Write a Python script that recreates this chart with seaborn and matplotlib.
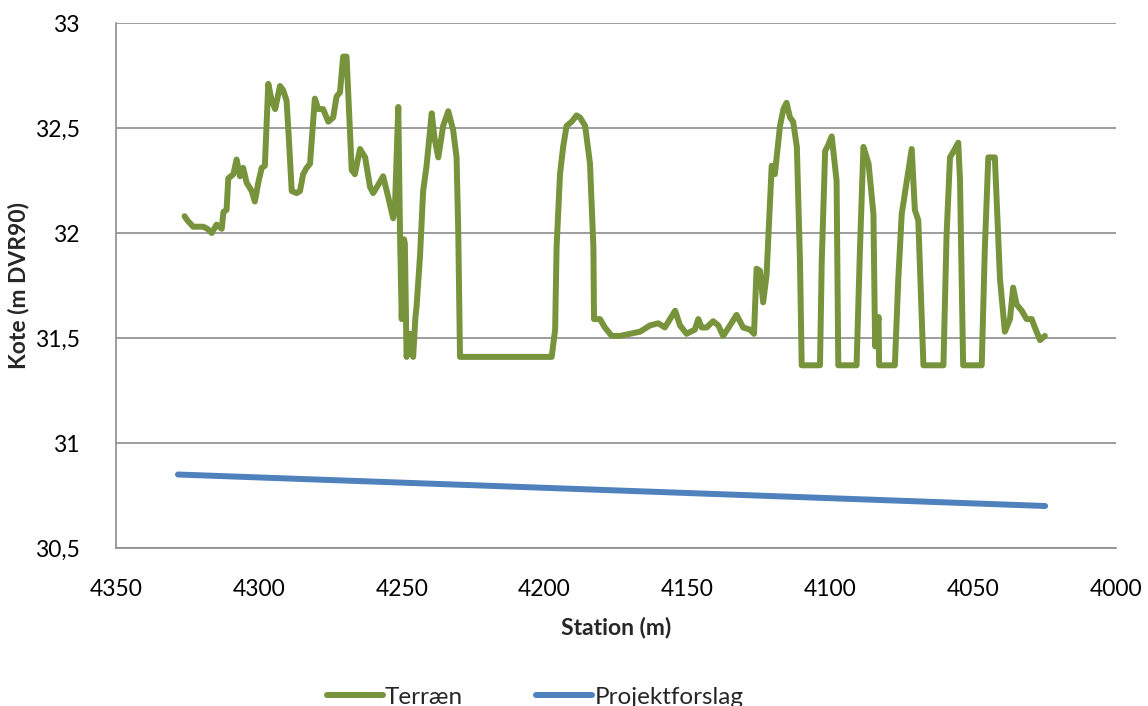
import numpy as np
import pandas as pd
import seaborn as sns
from matplotlib import pyplot as plt
from matplotlib.ticker import FuncFormatter, MultipleLocator

# terræn (station i m, kote i m DVR90)
terraen_station = [
    4326.0, 4325.0, 4323.0, 4319.5, 4318.0, 4316.5, 4314.8, 4313.0, 4312.4, 4311.3,
    4310.7, 4308.9, 4307.8, 4306.6, 4305.5, 4304.3, 4302.5, 4301.4, 4300.2, 4299.0,
    4297.9, 4296.7, 4295.5, 4294.3, 4292.6, 4291.5, 4290.3, 4289.5, 4288.5, 4286.8,
    4285.6, 4284.5, 4283.3, 4282.1, 4280.4, 4279.2, 4277.5, 4275.7, 4274.0, 4272.8,
    4271.6, 4270.5, 4269.3, 4268.5, 4267.5, 4266.4, 4264.6, 4262.8, 4261.1, 4260.0,
    4258.2, 4256.5, 4254.7, 4253.0, 4252.4, 4251.2, 4250.6, 4250.0, 4249.2, 4248.9,
    4248.3, 4247.1, 4246.0, 4245.2, 4244.8, 4243.6, 4242.5, 4241.3, 4239.5, 4238.5,
    4237.2, 4235.5, 4233.7, 4232.0, 4230.8, 4230.2, 4229.6, 4197.5, 4196.3, 4195.8,
    4194.6, 4193.5, 4192.3, 4190.5, 4188.8, 4187.6, 4185.8, 4184.1, 4182.9, 4182.7,
    4180.6, 4178.9, 4176.5, 4173.6, 4170.1, 4166.6, 4163.1, 4160.2, 4157.9, 4154.3,
    4152.6, 4150.3, 4147.4, 4146.2, 4145.0, 4143.3, 4141.0, 4139.2, 4137.5, 4135.1,
    4132.8, 4130.5, 4128.1, 4126.7, 4125.8, 4124.6, 4123.5, 4122.3, 4120.5, 4119.4,
    4117.6, 4116.4, 4115.3, 4114.1, 4113.0, 4111.7, 4110.6, 4110.0, 4103.6, 4103.0,
    4101.8, 4100.7, 4099.5, 4097.8, 4097.2, 4090.8, 4089.6, 4088.4, 4086.6, 4084.9,
    4084.3, 4083.1, 4082.9, 4077.4, 4076.2, 4075.0, 4073.3, 4071.5, 4070.4, 4069.2,
    4067.4, 4060.4, 4059.3, 4058.1, 4056.4, 4055.2, 4054.6, 4053.5, 4047.0, 4045.9,
    4044.7, 4042.4, 4040.6, 4038.9, 4037.1, 4036.0, 4034.8, 4033.0, 4031.3, 4029.5,
    4028.4, 4026.6, 4024.9,
]
terraen_kote = [
    32.08, 32.06, 32.03, 32.03, 32.02, 32.00, 32.04, 32.02, 32.10, 32.11,
    32.26, 32.28, 32.35, 32.27, 32.31, 32.24, 32.20, 32.15, 32.24, 32.31,
    32.32, 32.71, 32.63, 32.59, 32.70, 32.68, 32.63, 32.45, 32.20, 32.19,
    32.20, 32.28, 32.31, 32.33, 32.64, 32.59, 32.59, 32.53, 32.55, 32.65,
    32.67, 32.84, 32.84, 32.60, 32.30, 32.28, 32.40, 32.36, 32.22, 32.19,
    32.23, 32.27, 32.17, 32.07, 32.11, 32.60, 32.00, 31.59, 31.97, 31.95,
    31.41, 31.52, 31.41, 31.60, 31.65, 31.89, 32.20, 32.32, 32.57, 32.45,
    32.36, 32.51, 32.58, 32.49, 32.36, 32.00, 31.41, 31.41, 31.54, 31.93,
    32.28, 32.41, 32.51, 32.53, 32.56, 32.55, 32.51, 32.33, 31.93, 31.59,
    31.59, 31.55, 31.51, 31.51, 31.52, 31.53, 31.56, 31.57, 31.55, 31.63,
    31.56, 31.52, 31.54, 31.59, 31.55, 31.55, 31.58, 31.56, 31.51, 31.56,
    31.61, 31.55, 31.54, 31.52, 31.83, 31.82, 31.67, 31.80, 32.32, 32.28,
    32.51, 32.59, 32.62, 32.55, 32.53, 32.41, 31.86, 31.37, 31.37, 31.86,
    32.39, 32.42, 32.46, 32.25, 31.37, 31.37, 31.93, 32.41, 32.33, 32.09,
    31.46, 31.60, 31.37, 31.37, 31.78, 32.09, 32.24, 32.40, 32.11, 32.06,
    31.37, 31.37, 31.99, 32.36, 32.40, 32.43, 32.25, 31.37, 31.37, 31.93,
    32.36, 32.36, 31.78, 31.53, 31.59, 31.74, 31.66, 31.63, 31.59, 31.59,
    31.55, 31.49, 31.51,
]

# projektforslag (ret linje)
projekt_station = [4328.3, 4024.8]
projekt_kote = [30.85, 30.70]

df = pd.concat([
    pd.DataFrame({'station': terraen_station, 'kote': terraen_kote, 'serie': 'Terræn'}),
    pd.DataFrame({'station': projekt_station, 'kote': projekt_kote, 'serie': 'Projektforslag'}),
], ignore_index=True)

sns.set_theme(style='white')
plt.rcParams['font.family'] = ['Lato', 'DejaVu Sans']

fig = plt.figure(figsize=(11.48, 7.06), dpi=100)
ax = fig.add_axes([116 / 1148, 1 - 548 / 706, 1000 / 1148, 525 / 706])

sns.lineplot(data=df, x='station', y='kote', hue='serie', sort=False, estimator=None,
             palette={'Terræn': '#77933C', 'Projektforslag': '#4F81BD'},
             linewidth=4.3, ax=ax, legend=True)
for ln in ax.lines:
    ln.set_solid_joinstyle('round')
    ln.set_solid_capstyle('round')

ax.set_xlim(4350, 4000)
ax.set_ylim(30.5, 33)
ax.xaxis.set_major_locator(MultipleLocator(50))
ax.yaxis.set_major_locator(MultipleLocator(0.5))
ax.yaxis.set_major_formatter(FuncFormatter(lambda v, p: f'{v:g}'.replace('.', ',')))
ax.tick_params(length=0, labelsize=16.5, colors='black')
ax.tick_params(axis='x', pad=22)
ax.tick_params(axis='y', pad=26)

ax.grid(axis='y', color='#8c8c8c', linewidth=1.2)
ax.set_axisbelow(True)
for side in ['top', 'right']:
    ax.spines[side].set_visible(False)
for side in ['left', 'bottom']:
    ax.spines[side].set_color('#8c8c8c')
    ax.spines[side].set_linewidth(1.2)

ax.set_xlabel('Station (m)', fontsize=16.5, fontweight='bold', labelpad=12)
ax.set_ylabel('Kote (m DVR90)', fontsize=16.5, fontweight='bold', labelpad=4)

handles, labels = ax.get_legend_handles_labels()
ax.get_legend().remove()
fig.legend(handles, labels, loc='center', bbox_to_anchor=(535 / 1148, 1 - 697 / 706),
           ncol=2, frameon=False, fontsize=17.5, handlelength=2.3, handletextpad=0.1,
           columnspacing=3.0)

fig.savefig('out.png', dpi=100)
